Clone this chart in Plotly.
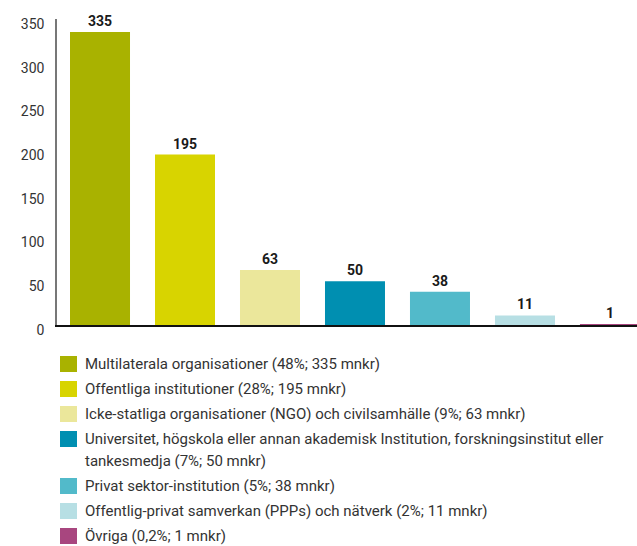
import plotly.graph_objects as go

# Funding per recipient category (mnkr)
categories = [
    "Multilaterala organisationer",
    "Offentliga institutioner",
    "Icke-statliga organisationer (NGO) och civilsamhälle",
    "Universitet, högskola eller annan akademisk Institution, forskningsinstitut eller<br>tankesmedja",
    "Privat sektor-institution",
    "Offentlig-privat samverkan (PPPs) och nätverk",
    "Övriga",
]
values = [335, 195, 63, 50, 38, 11, 1]
shares = ["48%", "28%", "9%", "7%", "5%", "2%", "0,2%"]
colors = ["#A9B200", "#D8D400", "#EBE79B", "#008FB1", "#52BACA", "#B7DFE4", "#A8467F"]
y_ticks = [0, 50, 100, 150, 200, 250, 300, 350]

W, H = 637, 546
ML, MT, MB = 57, 19, 221
PW, PH = W - ML, H - MT - MB


def px_x(x):
    return (x - ML) / PW


def px_y(y):
    return 1 - (y - MT) / PH


fig = go.Figure()
fig.add_trace(go.Bar(
    x=list(range(len(values))),
    y=values,
    marker=dict(color=colors, line=dict(width=0)),
    width=0.706,
    text=[str(v) for v in values],
    textposition="outside",
    textfont=dict(family="Roboto", size=14, color="#1a1a1a", weight="bold"),
    cliponaxis=False,
    showlegend=False,
    hoverinfo="skip",
))

# Legend drawn as swatches + labels below the plot
LINE_H = 22
y = 356
for cat, share, val, col in zip(categories, shares, values, colors):
    lines = f"{cat} ({share}; {val} mnkr)".split("<br>")
    fig.add_shape(
        type="rect", xref="paper", yref="paper",
        x0=px_x(60), x1=px_x(77), y0=px_y(y), y1=px_y(y + 16),
        fillcolor=col, line=dict(width=0),
    )
    for j, line in enumerate(lines):
        fig.add_annotation(
            xref="paper", yref="paper",
            x=px_x(83), y=px_y(y + 8 + j * LINE_H),
            xanchor="left", yanchor="middle", align="left",
            text=line, showarrow=False,
            font=dict(family="Roboto", size=15, color="#333333"),
        )
    y += 25 + (len(lines) - 1) * LINE_H

fig.update_layout(
    width=W, height=H,
    margin=dict(l=ML, r=0, t=MT, b=MB),
    paper_bgcolor="white", plot_bgcolor="white",
    xaxis=dict(
        range=[-0.506, 6.318], showticklabels=False, showgrid=False, zeroline=False,
        showline=True, linecolor="#111111", linewidth=1.5, ticks="",
    ),
    yaxis=dict(
        range=[0, 350], tickvals=y_ticks, showgrid=False, zeroline=False,
        showline=True, linecolor="#777777", linewidth=1.5, ticks="",
        tickfont=dict(family="Roboto", size=14, color="#333333"),
        ticklabelstandoff=8, ticklabelshift=5,
    ),
    showlegend=False,
)

fig.write_html("out.html")
